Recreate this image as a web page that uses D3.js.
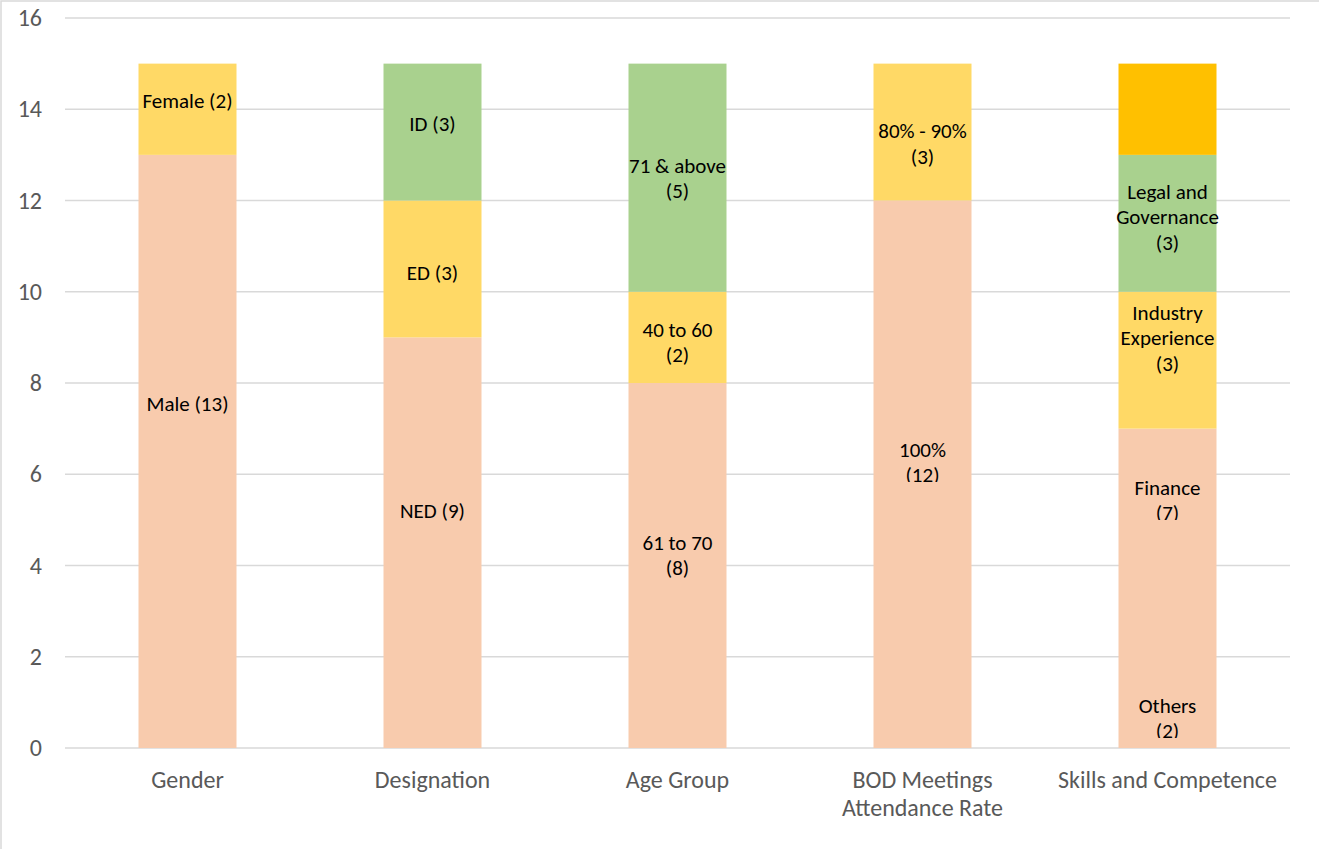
<!DOCTYPE html>
<html>
<head>
<meta charset="utf-8">
<script src="https://cdn.jsdelivr.net/npm/d3@7"></script>
<style>
  html, body { margin: 0; padding: 0; background: #fff; }
  svg { display: block; }
</style>
</head>
<body>
<svg id="chart" width="1319" height="849"></svg>
<script>
// ---- data ----
const categories = ["Gender", "Designation", "Age Group", "BOD Meetings Attendance Rate", "Skills and Competence"];
const series1Values = [13, 9, 8, 12, 7];
const series1Labels = ["Male (13)", "NED (9)", "61 to 70\n(8)", "100%\n(12)", "Finance\n(7)"];
const series2Values = [2, 3, 2, 3, 3];
const series2Labels = ["Female (2)", "ED (3)", "40 to 60\n(2)", "80% - 90%\n(3)", "Industry\nExperience\n(3)"];
const series3Values = [0, 3, 5, 0, 3];
const series3Labels = ["", "ID (3)", "71 & above\n(5)", "", "Legal and\nGovernance\n(3)"];
const series4Values = [0, 0, 0, 0, 2];
const series4Labels = ["", "", "", "", "Others\n(2)"];
const yTicks = [0, 2, 4, 6, 8, 10, 12, 14, 16];

// ---- layout / style ----
const seriesColors = ["#F8CBAD", "#FFD966", "#A9D18E", "#FFC000"];
// manual label displacement (px) as in the original chart
const labelShift = [
  [-47, -32, -10, -12, -88],
  [-8, 4, 5, 12, -22],
  [0, -8, 1, 0, -6],
  [0, 0, 0, 0, 609]
];
const labelClip = [
  [false, false, false, true, true],
  [false, false, false, false, false],
  [false, false, false, false, false],
  [false, false, false, false, true]
];
const FONT = "Carlito, Calibri, Lato, 'Noto Sans', sans-serif";
const AXIS_FS = 24, LABEL_FS = 21;

const svg = d3.select("#chart");
const margin = { left: 65, right: 29, top: 18, bottom: 101 };
const W = 1319, H = 849;

// chart border
svg.append("rect").attr("x", 1).attr("y", 1).attr("width", W + 20).attr("height", H + 20)
  .attr("fill", "none").attr("stroke", "#D9D9D9").attr("stroke-width", 1.5);

const x = d3.scaleBand().domain(categories).range([margin.left, W - margin.right]).paddingInner(0.6).paddingOuter(0.3);
const y = d3.scaleLinear().domain([0, 16]).range([H - margin.bottom, margin.top]);

// gridlines
svg.append("g").selectAll("line").data(yTicks).join("line")
  .attr("x1", margin.left).attr("x2", W - margin.right)
  .attr("y1", d => y(d)).attr("y2", d => y(d))
  .attr("stroke", "#D9D9D9").attr("stroke-width", 1.3);

// y axis (labels only)
const yAxis = d3.axisLeft(y).tickValues(yTicks).tickSize(0).tickPadding(0);
const yg = svg.append("g").attr("transform", `translate(${margin.left - 23},0)`).call(yAxis);
yg.select(".domain").remove();
yg.selectAll("text").attr("font-family", FONT).attr("font-size", AXIS_FS).attr("fill", "#595959");

// stacked data
const seriesValues = [series1Values, series2Values, series3Values, series4Values];
const seriesLabels = [series1Labels, series2Labels, series3Labels, series4Labels];
const table = categories.map((c, i) => {
  const row = { category: c };
  seriesValues.forEach((s, k) => row["s" + k] = s[i]);
  return row;
});
const keys = seriesValues.map((s, k) => "s" + k);
const stacked = d3.stack().keys(keys)(table);

const barsG = svg.append("g");
stacked.forEach((layer, k) => {
  barsG.append("g").attr("fill", seriesColors[k])
    .selectAll("rect").data(layer.filter(d => d[1] - d[0] > 0)).join("rect")
    .attr("x", d => x(d.data.category))
    .attr("width", x.bandwidth())
    .attr("y", d => y(d[1]))
    .attr("height", d => y(d[0]) - y(d[1]));
});

// data labels
const defs = svg.append("defs");
const labelsG = svg.append("g");
const LH = 25.5;
stacked.forEach((layer, k) => {
  layer.forEach((d, i) => {
    const txt = seriesLabels[k][i];
    if (!txt || d[1] - d[0] <= 0) return;
    const lines = txt.split("\n");
    const cx = x(d.data.category) + x.bandwidth() / 2;
    const cy = (y(d[0]) + y(d[1])) / 2 + labelShift[k][i];
    const g = labelsG.append("g");
    if (labelClip[k][i]) {
      const id = `clip-${k}-${i}`;
      const lastY = cy + (lines.length - 1) / 2 * LH;
      defs.append("clipPath").attr("id", id).append("rect")
        .attr("x", cx - 70).attr("width", 140)
        .attr("y", cy - lines.length * LH).attr("height", lastY + 7 - (cy - lines.length * LH));
      g.attr("clip-path", `url(#${id})`);
    }
    g.selectAll("text").data(lines).join("text")
      .attr("x", cx)
      .attr("y", (l, j) => cy + (j - (lines.length - 1) / 2) * LH)
      .attr("text-anchor", "middle")
      .attr("dominant-baseline", "central")
      .attr("font-family", FONT).attr("font-size", LABEL_FS).attr("fill", "#000")
      .text(l => l);
  });
});

// category axis labels with wrapping
const xg = svg.append("g");
categories.forEach(c => {
  const cx = x(c) + x.bandwidth() / 2;
  const t = xg.append("text").attr("text-anchor", "middle")
    .attr("font-family", FONT).attr("font-size", AXIS_FS).attr("fill", "#595959");
  const words = c.split(" ");
  let lines = [], cur = [];
  const maxW = x.step() * 0.95;
  const probe = t.append("tspan");
  words.forEach(w => {
    const test = cur.concat([w]).join(" ");
    probe.text(test);
    if (probe.node().getComputedTextLength() > maxW && cur.length) {
      lines.push(cur.join(" "));
      cur = [w];
    } else cur.push(w);
  });
  lines.push(cur.join(" "));
  probe.remove();
  lines.forEach((l, j) => {
    t.append("tspan").attr("x", cx).attr("y", 779 + j * 28)
      .attr("dominant-baseline", "central").text(l);
  });
});
</script>
</body>
</html>
